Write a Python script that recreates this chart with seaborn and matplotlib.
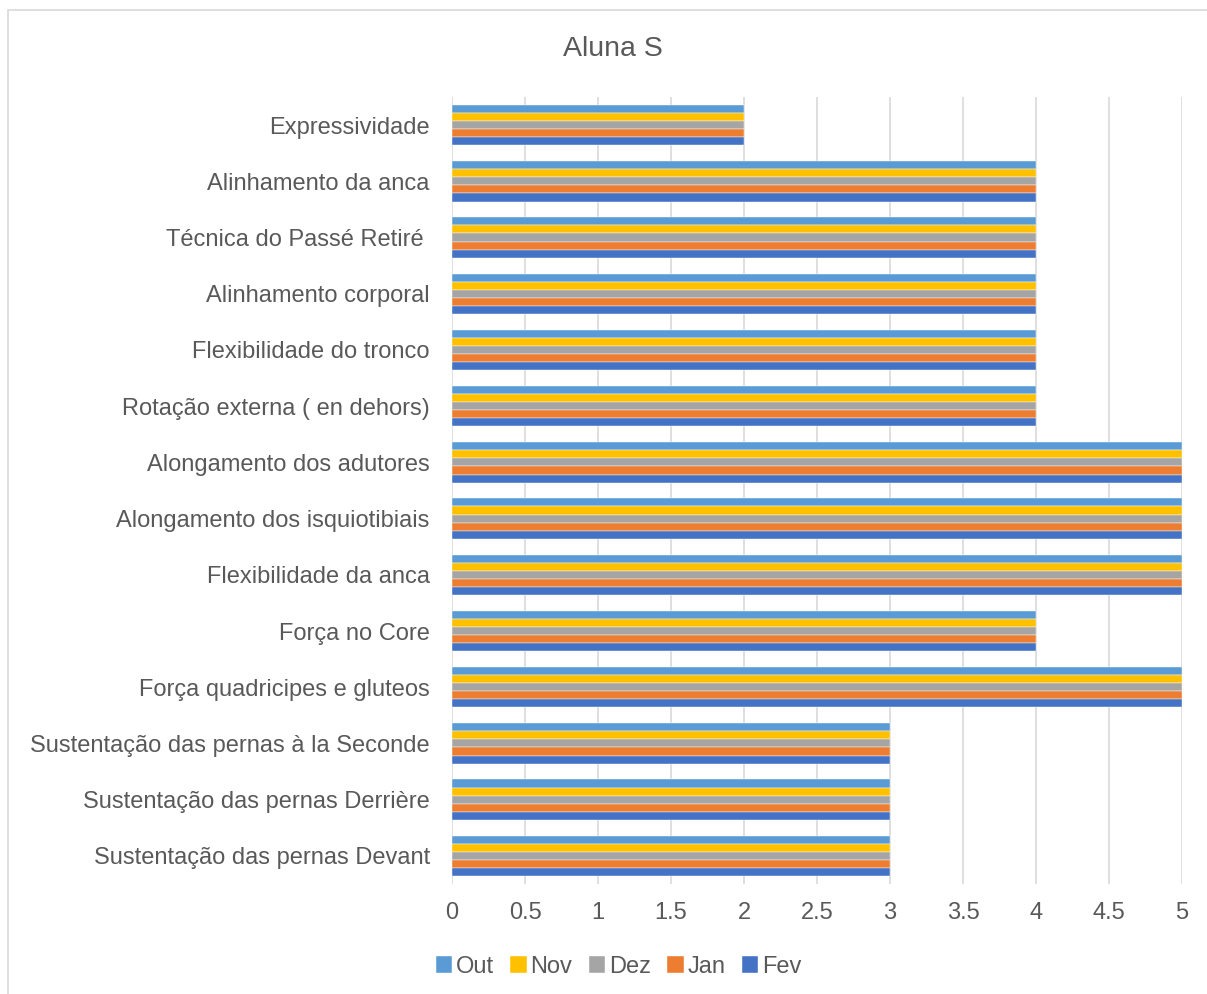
import pandas as pd
import seaborn as sns
import matplotlib.pyplot as plt
from matplotlib.patches import Rectangle

categories = [
    'Expressividade',
    'Alinhamento da anca',
    'Técnica do Passé Retiré ',
    'Alinhamento corporal',
    'Flexibilidade do tronco',
    'Rotação externa ( en dehors)',
    'Alongamento dos adutores',
    'Alongamento dos isquiotibiais',
    'Flexibilidade da anca',
    'Força no Core',
    'Força quadricipes e gluteos',
    'Sustentação das pernas à la Seconde',
    'Sustentação das pernas Derrière',
    'Sustentação das pernas Devant',
]
months = ['Out', 'Nov', 'Dez', 'Jan', 'Fev']
out_vals = [2, 4, 4, 4, 4, 4, 5, 5, 5, 4, 5, 3, 3, 3]
nov_vals = [2, 4, 4, 4, 4, 4, 5, 5, 5, 4, 5, 3, 3, 3]
dez_vals = [2, 4, 4, 4, 4, 4, 5, 5, 5, 4, 5, 3, 3, 3]
jan_vals = [2, 4, 4, 4, 4, 4, 5, 5, 5, 4, 5, 3, 3, 3]
fev_vals = [2, 4, 4, 4, 4, 4, 5, 5, 5, 4, 5, 3, 3, 3]
colors = ['#5B9BD5', '#FFC000', '#A5A5A5', '#ED7D31', '#4472C4']

rows = []
for m, vals in zip(months, [out_vals, nov_vals, dez_vals, jan_vals, fev_vals]):
    for c, v in zip(categories, vals):
        rows.append({'cat': c, 'mes': m, 'nota': v})
df = pd.DataFrame(rows)

sns.set_style('white')
plt.rcParams['font.family'] = ['Liberation Sans', 'DejaVu Sans']

fig = plt.figure(figsize=(12.07, 9.94), dpi=100)
ax = fig.add_axes([0.3745, 0.1107, 0.6048, 0.7917])

sns.barplot(data=df, x='nota', y='cat', hue='mes', order=categories,
            hue_order=months, palette=colors, saturation=1, orient='h', width=0.72,
            edgecolor='white', linewidth=0.3, ax=ax)

ax.set_xlim(0, 5)
ax.set_xticks([0, 0.5, 1, 1.5, 2, 2.5, 3, 3.5, 4, 4.5, 5])
ax.set_xticklabels(['0', '0.5', '1', '1.5', '2', '2.5', '3', '3.5', '4', '4.5', '5'])
ax.xaxis.grid(True, color='#D9D9D9', linewidth=1.2)
ax.set_axisbelow(True)
for s in ax.spines.values():
    s.set_visible(False)
ax.tick_params(axis='both', length=0, labelsize=17, colors='#595959')
ax.tick_params(axis='x', pad=13)
ax.tick_params(axis='y', pad=16)
ax.set_xlabel('')
ax.set_ylabel('')

ax.legend(loc='upper center', bbox_to_anchor=(0.228, -0.064), ncol=5, frameon=False,
          fontsize=17, handlelength=0.7, handleheight=0.7, handletextpad=0.15,
          columnspacing=0.7, labelcolor='#595959')

fig.text(0.508, 0.951, 'Aluna S', ha='center', va='center', fontsize=20.5, color='#595959')
fig.patches.append(Rectangle((8 / 1207, -0.01), 1.1, 1 - 10 / 994 + 0.01,
                             transform=fig.transFigure, fill=False,
                             edgecolor='#D9D9D9', linewidth=1.2))

fig.savefig('out.png', dpi=100)
